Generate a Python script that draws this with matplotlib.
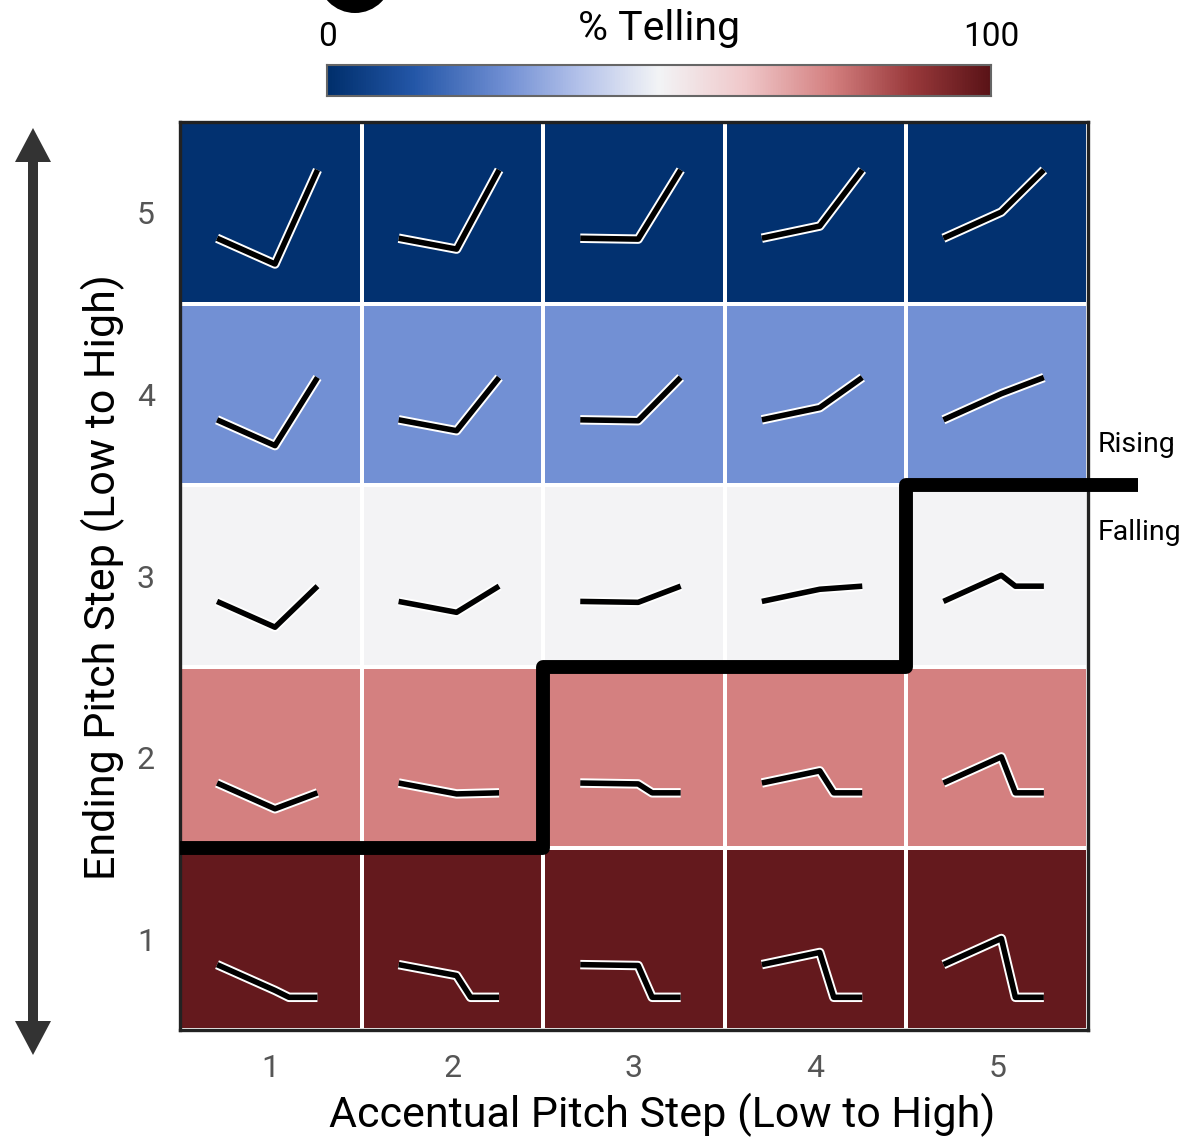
import matplotlib
matplotlib.use("Agg")
import matplotlib.pyplot as plt
import matplotlib.patheffects as pe
from matplotlib.colors import LinearSegmentedColormap
from matplotlib.patches import Polygon, Ellipse
import numpy as np

plt.rcParams['font.family'] = ['Roboto', 'DejaVu Sans']

# ---------------- data ----------------
accent_steps = [1, 2, 3, 4, 5]
ending_steps = [1, 2, 3, 4, 5]
# % telling, rows = ending step 1..5, cols = accent step 1..5
telling_pct = [
    [98, 98, 98, 98, 98],
    [76, 76, 76, 76, 76],
    [50, 50, 50, 50, 50],
    [27, 27, 27, 27, 27],
    [1, 1, 1, 1, 1],
]
# contour glyph pitch levels (fraction of cell height)
start_level = 0.36
accent_level = [0.218, 0.30, 0.355, 0.427, 0.504]
ending_level = [0.18, 0.306, 0.444, 0.593, 0.736]
# rising/falling boundary (ending-step edge) for each accent step
boundary = [1.5, 1.5, 2.5, 2.5, 3.5]
tick_labels = ['1', '2', '3', '4', '5']

W, H = 1185, 1138
fig = plt.figure(figsize=(W / 100, H / 100), dpi=100)

cmap = LinearSegmentedColormap.from_list('telling', [
    (0.00, '#002f6c'),
    (0.13, '#2457a8'),
    (0.27, '#7290d4'),
    (0.38, '#b4c2ea'),
    (0.50, '#f3f4f6'),
    (0.63, '#f0c8ca'),
    (0.76, '#d48080'),
    (0.88, '#9a3a3c'),
    (1.00, '#5a1317'),
])

def fr(x0, y0, x1, y1):
    return [x0 / W, 1 - y1 / H, (x1 - x0) / W, (y1 - y0) / H]

# overlay axes in pixel coords for decorations
ov = fig.add_axes([0, 0, 1, 1], zorder=0)
ov.set_xlim(0, W)
ov.set_ylim(H, 0)
ov.axis('off')
ov.patch.set_alpha(0)
cx, top, bot = 33, 128, 1055
sw, hw, hl = 5, 18, 34
arrow = [(cx, top), (cx + hw, top + hl), (cx + sw, top + hl), (cx + sw, bot - hl),
         (cx + hw, bot - hl), (cx, bot), (cx - hw, bot - hl), (cx - sw, bot - hl),
         (cx - sw, top + hl), (cx - hw, top + hl)]
ov.add_patch(Polygon(arrow, closed=True, facecolor='#333333', edgecolor='none'))
ov.add_patch(Ellipse((355, -24), 74, 74, facecolor='black', edgecolor='none', clip_on=False))

# heatmap
ax = fig.add_axes(fr(180, 122, 1088, 1030), zorder=2)
edges = np.arange(0.5, 6.0, 1.0)
ax.pcolormesh(edges, edges, np.array(telling_pct), cmap=cmap, vmin=0, vmax=100,
              edgecolors='white', linewidth=1.6)
ax.set_xlim(0.5, 5.5)
ax.set_ylim(0.5, 5.5)
for s in ax.spines.values():
    s.set_color('#222222')
    s.set_linewidth(2.4)
ax.set_xticks(accent_steps)
ax.set_xticklabels(tick_labels)
ax.set_yticks(ending_steps)
ax.set_yticklabels(tick_labels)
ax.tick_params(length=0, labelsize=23, labelcolor='#555555')
ax.tick_params(axis='x', pad=17)
ax.tick_params(axis='y', pad=18)
ax.set_xlabel('Accentual Pitch Step (Low to High)', fontsize=31)
ax.set_ylabel('Ending Pitch Step (Low to High)', fontsize=31)
ax.xaxis.set_label_coords(662 / W, 1 - 1115 / H, transform=fig.transFigure)
ax.yaxis.set_label_coords(103 / W, 1 - 577 / H, transform=fig.transFigure)
ax.xaxis.label.set_va('center')
ax.yaxis.label.set_va('center')

# contour glyphs
fx_start, fx_acc, fx_drop, fx_end = 0.204, 0.523, 0.60, 0.757
for ai, a in enumerate(accent_steps):
    for ei, e in enumerate(ending_steps):
        x0, y0 = a - 0.5, e - 0.5
        ay, ey = accent_level[ai], ending_level[ei]
        if ey >= ay:
            fxs = [fx_start, fx_acc, fx_end]
            fys = [start_level, ay, ey]
        else:
            fxs = [fx_start, fx_acc, fx_drop, fx_end]
            fys = [start_level, ay, ey, ey]
        ax.plot([x0 + f for f in fxs], [y0 + f for f in fys], color='black', lw=4.0,
                solid_capstyle='butt', solid_joinstyle='round', zorder=3,
                path_effects=[pe.Stroke(linewidth=6.8, foreground='white'), pe.Normal()])

# rising / falling boundary
bx = list(np.array(accent_steps) - 0.5) + [5.775]
by = boundary + [boundary[-1]]
ax.step(bx, by, where='post', color='black', lw=10, clip_on=False, zorder=5,
        solid_capstyle='butt', solid_joinstyle='round')
fig.text(1098 / W, 1 - 444 / H, 'Rising', fontsize=20.5, va='center', ha='left')
fig.text(1098 / W, 1 - 532 / H, 'Falling', fontsize=20.5, va='center', ha='left')

# colorbar
cax = fig.add_axes(fr(327, 65, 991, 96), zorder=2)
grad = np.linspace(0, 100, 512).reshape(1, -1)
cax.imshow(grad, aspect='auto', cmap=cmap, vmin=0, vmax=100, extent=[0, 100, 0, 1])
cax.set_xlim(0, 100)
cax.set_yticks([])
cax.set_xticks([0, 100])
cax.set_xticklabels(['0', '100'])
cax.tick_params(axis='x', which='both', top=True, bottom=True, labeltop=True, labelbottom=False,
                direction='in', length=5, width=1.2, color='#cccccc', labelsize=24, pad=9)
for s in cax.spines.values():
    s.set_color('#666666')
    s.set_linewidth(1.5)
fig.text(659 / W, 1 - 28 / H, '% Telling', fontsize=29.5, ha='center', va='center')

fig.savefig('out.png', dpi=100)
